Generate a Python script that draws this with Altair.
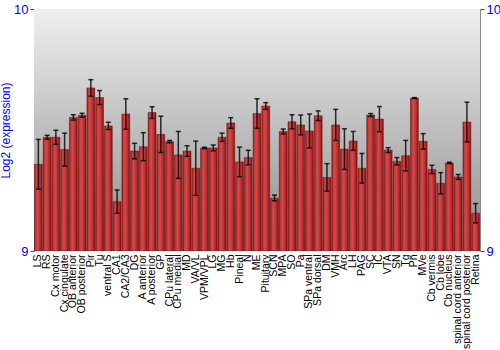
import altair as alt
import pandas as pd

categories = ["LS", "RS", "Cx motor", "Cx cingulate", "OB anterior", "OB posterior", "Pir", "Tu",
              "ventral S", "CA1", "CA2/CA3", "DG", "A anterior", "A posterior", "GP", "CPu lateral",
              "CPu medial", "MD", "VA/VL", "VPM/VPL", "LG", "MG", "Hb", "Pineal", "N", "ME",
              "Pituitary", "SCN", "MPA", "SO", "Pa", "SPa ventral", "SPa dorsal", "DM", "VMH", "Arc",
              "LH", "PAG", "SC", "IC", "VTA", "SN", "Tg", "Pn", "MVe", "Cb vermis", "Cb lobe",
              "Cb nucleus", "spinal cord anterior", "spinal cord posterior", "Retina"]
values = [9.358, 9.470, 9.470, 9.419, 9.552, 9.561, 9.674, 9.634, 9.517, 9.204, 9.566, 9.413,
          9.431, 9.572, 9.482, 9.452, 9.397, 9.413, 9.342, 9.426, 9.426, 9.470, 9.529, 9.368,
          9.386, 9.568, 9.599, 9.219, 9.494, 9.534, 9.521, 9.496, 9.559, 9.304, 9.521, 9.421,
          9.455, 9.342, 9.562, 9.545, 9.417, 9.371, 9.394, 9.632, 9.453, 9.337, 9.280, 9.364,
          9.306, 9.533, 9.156]
errors = [0.103, 0.008, 0.029, 0.068, 0.011, 0.008, 0.034, 0.029, 0.015, 0.048, 0.063, 0.032,
          0.058, 0.024, 0.075, 0.005, 0.097, 0.022, 0.112, 0.003, 0.012, 0.017, 0.022, 0.061,
          0.030, 0.061, 0.014, 0.012, 0.010, 0.029, 0.041, 0.070, 0.020, 0.057, 0.064, 0.084,
          0.039, 0.061, 0.006, 0.052, 0.010, 0.015, 0.063, 0.002, 0.032, 0.017, 0.044, 0.003,
          0.010, 0.082, 0.040]
tick_values = [9, 10]

df = pd.DataFrame({"region": categories, "value": values, "err": errors})
df["lo"] = df["value"] - df["err"]
df["hi"] = df["value"] + df["err"]

W, H = 446, 242
BLUE = "#0000ff"

xenc = alt.X("region:N", sort=categories, title=None,
             scale=alt.Scale(paddingInner=0.1, paddingOuter=0.05),
             axis=alt.Axis(labelAngle=270, labelFontSize=10.5, labelColor="black",
                           labelFont="Liberation Sans", ticks=False, domain=False,
                           labelPadding=3, labelLimit=200))
yscale = alt.Scale(domain=[9, 10], zero=False, nice=False)

bg = alt.Chart(alt.Data(values=[{"a": 1}])).mark_rect(
    color=alt.Gradient(gradient="linear", x1=0, x2=0, y1=0, y2=1,
                       stops=[alt.GradientStop(color="#f0f0f0", offset=0),
                              alt.GradientStop(color="#8c8c8c", offset=1)])
).encode(x=alt.value(0), x2=alt.value(W), y=alt.value(0), y2=alt.value(H))

bars = alt.Chart(df).mark_bar(
    color=alt.Gradient(gradient="linear", x1=0, x2=1, y1=0, y2=0,
                       stops=[alt.GradientStop(color="#8a1818", offset=0),
                              alt.GradientStop(color="#c83a3a", offset=0.18),
                              alt.GradientStop(color="#d24a4a", offset=0.4),
                              alt.GradientStop(color="#b42c2c", offset=0.75),
                              alt.GradientStop(color="#7a1414", offset=1)]),
    stroke="#6a1010", strokeWidth=0.5, clip=True
).encode(
    x=xenc,
    y=alt.Y("value:Q", scale=yscale, title="Log2 (expression)",
            axis=alt.Axis(values=tick_values, format="d", orient="left", labelColor=BLUE,
                          labelFontSize=13, labelFont="Liberation Sans", titleColor=BLUE,
                          titleFontSize=12, titleFont="Liberation Sans",
                          titleFontWeight="normal", grid=False, domainColor="#888888",
                          tickColor="#444444", tickSize=4, labelPadding=2, titlePadding=1)),
    y2=alt.datum(9),
)

rules = alt.Chart(df).mark_rule(color="black", opacity=0.8, strokeWidth=1.5).encode(
    x=alt.X("region:N", sort=categories),
    y=alt.Y("lo:Q", scale=yscale,
            axis=alt.Axis(values=tick_values, format="d", orient="right", labelColor=BLUE,
                          labelFontSize=13, labelFont="Liberation Sans", title=None,
                          grid=False, domainColor="#888888", tickColor="#444444",
                          tickSize=4, labelPadding=2)),
    y2="hi:Q",
)
cap_lo = alt.Chart(df).mark_tick(color="black", opacity=0.8, size=5, thickness=1.5).encode(
    x=alt.X("region:N", sort=categories), y=alt.Y("lo:Q", scale=yscale, axis=None))
cap_hi = alt.Chart(df).mark_tick(color="black", opacity=0.8, size=5, thickness=1.5).encode(
    x=alt.X("region:N", sort=categories), y=alt.Y("hi:Q", scale=yscale, axis=None))

chart = alt.layer(bg, bars, rules, cap_lo, cap_hi).resolve_axis(y="independent").properties(
    width=W, height=H,
    autosize=alt.AutoSizeParams(type="none"),
    padding={"left": 34, "top": 9, "right": 20, "bottom": 99},
    background="white",
).configure_view(stroke=None)

chart.save("out.html", embed_options={"renderer": "svg", "actions": False})
